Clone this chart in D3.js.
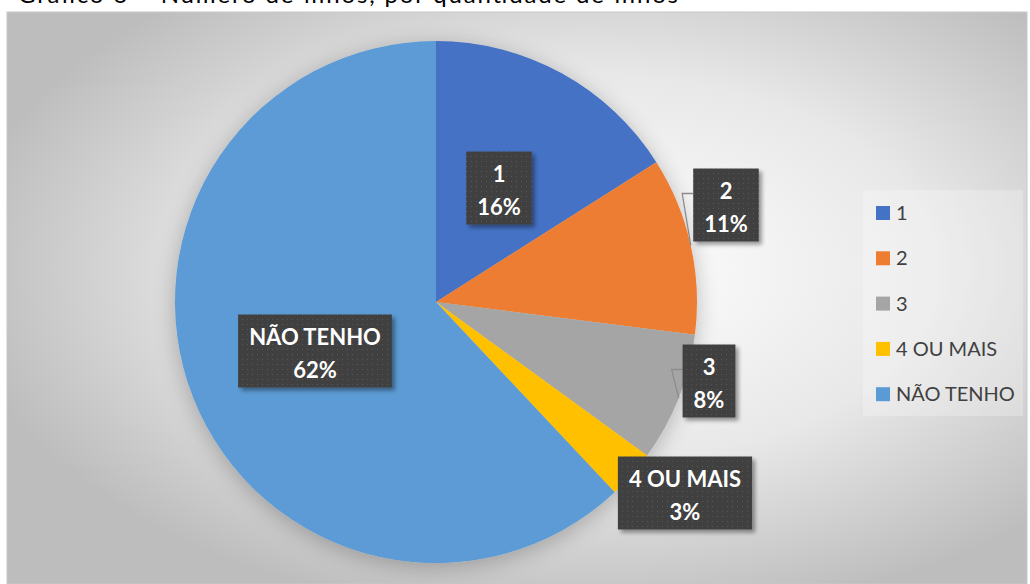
<!DOCTYPE html>
<html>
<head>
<meta charset="utf-8">
<script src="https://cdn.jsdelivr.net/npm/d3@7"></script>
<style>
  html, body { margin: 0; padding: 0; background: #fff; }
  svg { display: block; }
</style>
</head>
<body>
<svg id="chart" width="1030" height="584"></svg>
<script>
// data
var categories = ['1', '2', '3', '4 OU MAIS', 'NÃO TENHO'];
var percents = [16, 11, 8, 3, 62];
var colors = ['#4472C4', '#ED7D31', '#A5A5A5', '#FFC000', '#5B9BD5'];
var title = 'Gráfico 6 – Número de filhos, por quantidade de filhos';

// layout
var W = 1030, H = 584;
var cx = 436, cy = 302, R = 261;
// label box centres, relative to the pie centre
var labelOffsets = [[63, -113], [290, -96], [273, 80], [249, 192], [-121, 50]];
var leaderSlices = [1, 2];

var svg = d3.select('#chart');
var defs = svg.append('defs');

var bg = defs.append('radialGradient').attr('id', 'bg')
    .attr('cx', '0.57').attr('cy', '0.45').attr('r', '0.62');
bg.append('stop').attr('offset', '0').attr('stop-color', '#ffffff');
bg.append('stop').attr('offset', '0.55').attr('stop-color', '#e8e8e8');
bg.append('stop').attr('offset', '1').attr('stop-color', '#bdbdbd');

var dots = defs.append('pattern').attr('id', 'dots')
    .attr('patternUnits', 'userSpaceOnUse').attr('width', 5).attr('height', 5);
dots.append('rect').attr('width', 5).attr('height', 5).attr('fill', '#404040');
dots.append('rect').attr('x', 2).attr('y', 2).attr('width', 1).attr('height', 1).attr('fill', '#595959');

var pieShadow = defs.append('filter').attr('id', 'pieShadow')
    .attr('x', '-20%').attr('y', '-20%').attr('width', '140%').attr('height', '140%');
pieShadow.append('feGaussianBlur').attr('in', 'SourceAlpha').attr('stdDeviation', 11);
pieShadow.append('feOffset').attr('dx', 0).attr('dy', 4).attr('result', 'b');
pieShadow.append('feComponentTransfer').append('feFuncA').attr('type', 'linear').attr('slope', 0.25);
var m1 = pieShadow.append('feMerge');
m1.append('feMergeNode');
m1.append('feMergeNode').attr('in', 'SourceGraphic');

var boxShadow = defs.append('filter').attr('id', 'boxShadow')
    .attr('x', '-20%').attr('y', '-20%').attr('width', '150%').attr('height', '150%');
boxShadow.append('feGaussianBlur').attr('in', 'SourceAlpha').attr('stdDeviation', 2);
boxShadow.append('feOffset').attr('dx', 3).attr('dy', 3);
boxShadow.append('feComponentTransfer').append('feFuncA').attr('type', 'linear').attr('slope', 0.4);
var m2 = boxShadow.append('feMerge');
m2.append('feMergeNode');
m2.append('feMergeNode').attr('in', 'SourceGraphic');

// title (cut off at the top of the picture, as in the source)
svg.append('text').attr('x', 18).attr('y', 3)
    .attr('font-family', 'Lato, sans-serif').attr('font-size', 24)
    .attr('textLength', 660).attr('lengthAdjust', 'spacing')
    .attr('fill', '#000').text(title);

// chart area
svg.append('rect').attr('x', 7).attr('y', 12).attr('width', 1020).attr('height', H - 12)
    .attr('fill', 'url(#bg)').attr('stroke', '#c8c8c8').attr('stroke-width', 1);

var pie = d3.pie().sort(null).value(function(d) { return d; });
var arcs = pie(percents);
var arc = d3.arc().innerRadius(0).outerRadius(R);

var pieLayer = svg.append('g').attr('transform', 'translate(' + cx + ',' + cy + ')');
pieLayer.append('g').attr('filter', 'url(#pieShadow)')
    .selectAll('path').data(arcs).enter().append('path')
    .attr('d', arc)
    .attr('fill', function(d, i) { return colors[i]; });

// labels
var fontBold = 'Lato, "Open Sans", sans-serif';
var labelLayer = pieLayer.append('g');
arcs.forEach(function(d, i) {
    var off = labelOffsets[i];
    var g = labelLayer.append('g').attr('transform', 'translate(' + off[0] + ',' + off[1] + ')');
    var t1 = g.append('text').attr('text-anchor', 'middle').attr('y', -7)
        .attr('font-family', fontBold).attr('font-weight', 700).attr('font-size', 22)
        .attr('fill', '#fff').text(categories[i]);
    var t2 = g.append('text').attr('text-anchor', 'middle').attr('y', 26)
        .attr('font-family', fontBold).attr('font-weight', 700).attr('font-size', 22)
        .attr('fill', '#fff').text(percents[i] + '%');
    var w = Math.max(t1.node().getComputedTextLength(), t2.node().getComputedTextLength()) + 22;
    var h = 73;
    g.insert('rect', 'text').attr('x', -w / 2).attr('y', -h / 2 - 1)
        .attr('width', w).attr('height', h)
        .attr('fill', 'url(#dots)').attr('filter', 'url(#boxShadow)');
    if (leaderSlices.indexOf(i) >= 0) {
        var a = (d.startAngle + d.endAngle) / 2;
        var px = Math.sin(a) * R, py = -Math.cos(a) * R;
        var bx = off[0] - w / 2, by = off[1] - h / 2 + 24;
        labelLayer.insert('path', 'g')
            .attr('d', 'M' + px + ',' + py + 'L' + (bx - 11) + ',' + by + 'L' + bx + ',' + by)
            .attr('fill', 'none').attr('stroke', '#8c8c8c').attr('stroke-width', 1.3);
    }
});

// legend
var legend = svg.append('g').attr('transform', 'translate(863,190)');
legend.append('rect').attr('width', 160).attr('height', 226)
    .attr('fill', '#ffffff').attr('fill-opacity', 0.25);
var item = legend.selectAll('.item').data(categories).enter().append('g')
    .attr('class', 'item')
    .attr('transform', function(d, i) { return 'translate(13,' + (23 + i * 45.3) + ')'; });
item.append('rect').attr('x', 0).attr('y', -7).attr('width', 14).attr('height', 14)
    .attr('fill', function(d, i) { return colors[i]; });
item.append('text').attr('x', 20).attr('y', 7)
    .attr('font-family', 'Lato, sans-serif').attr('font-size', 20)
    .attr('fill', '#404040').text(function(d) { return d; });
</script>
</body>
</html>
